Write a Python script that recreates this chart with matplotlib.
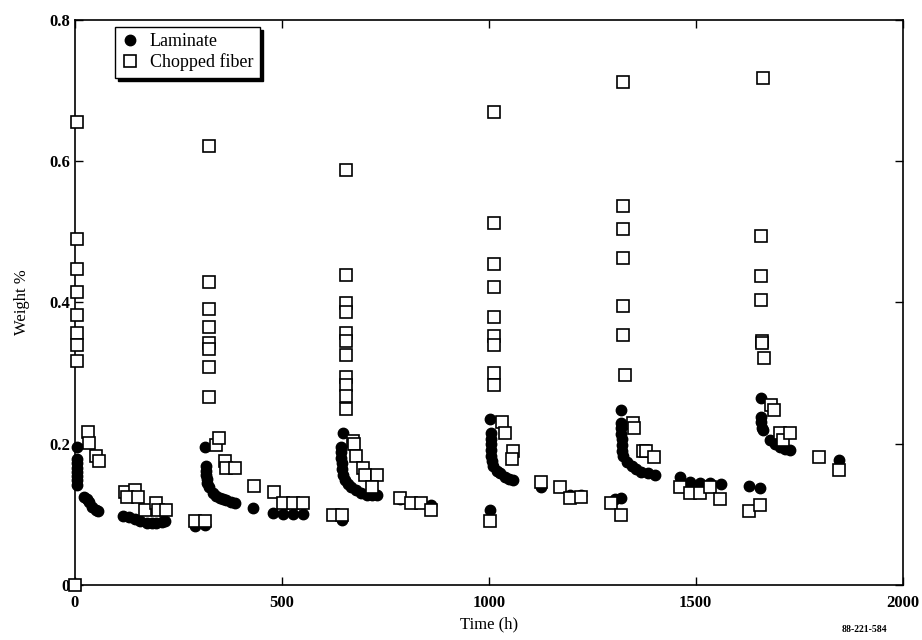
import matplotlib
matplotlib.use('Agg')
import matplotlib.pyplot as plt

plt.rcParams['font.family'] = ['Liberation Serif', 'DejaVu Serif']

# Laminate (filled circles)
lam_t = [4, 5, 5, 5, 5, 5, 5, 5, 22, 28, 34, 42, 52, 56,
         116, 130, 145, 157, 173, 185, 197, 210, 217,
         290, 314, 314, 316, 316, 316, 318, 320, 324, 334, 342, 350, 358, 366, 376, 386,
         431, 479, 503, 527, 551,
         646, 648, 644, 644, 644, 645, 646, 648, 652, 660, 668, 680, 692, 705, 717, 729,
         785, 861,
         1004, 1004, 1005, 1005, 1005, 1006, 1006, 1008, 1010, 1020, 1027, 1040, 1050, 1059,
         1127, 1196, 1224,
         1305, 1320, 1320, 1320, 1320, 1320, 1321, 1322, 1323, 1325, 1335, 1345, 1357, 1369, 1385, 1401,
         1461, 1486, 1510, 1534, 1562, 1630, 1655,
         1659, 1659, 1659, 1660, 1662, 1679, 1691, 1703, 1715, 1727,
         1846]
lam_w = [0.196, 0.178, 0.172, 0.166, 0.160, 0.154, 0.148, 0.142, 0.125, 0.121, 0.117, 0.111, 0.106, 0.104,
         0.097, 0.096, 0.093, 0.090, 0.088, 0.088, 0.088, 0.089, 0.090,
         0.083, 0.085, 0.196, 0.168, 0.162, 0.156, 0.150, 0.144, 0.139, 0.130, 0.126, 0.123, 0.121, 0.120, 0.118, 0.116,
         0.109, 0.102, 0.101, 0.100, 0.101,
         0.092, 0.215, 0.196, 0.188, 0.180, 0.172, 0.164, 0.156, 0.149, 0.143, 0.139, 0.134, 0.130, 0.128, 0.127, 0.127,
         0.121, 0.113,
         0.106, 0.235, 0.215, 0.207, 0.199, 0.191, 0.183, 0.175, 0.168, 0.162, 0.158, 0.153, 0.150, 0.149,
         0.139, 0.128, 0.128,
         0.121, 0.123, 0.248, 0.229, 0.222, 0.214, 0.206, 0.198, 0.190, 0.182, 0.174, 0.168, 0.164, 0.160, 0.158, 0.156,
         0.153, 0.146, 0.144, 0.144, 0.143, 0.140, 0.137,
         0.264, 0.238, 0.230, 0.222, 0.219, 0.205, 0.200, 0.196, 0.193, 0.191,
         0.177]

# Chopped fiber (open squares)
chop_t = [0,
          5, 5, 5, 5, 5, 5, 5, 5, 32, 35, 52, 59,
          121, 145, 125, 153, 169, 197, 200, 220,
          290, 314, 324, 324, 324, 324, 324, 324, 324, 324, 340, 349, 362, 366, 386, 432, 481, 503, 527, 551,
          624, 646, 655, 655, 655, 655, 655, 655, 655, 655, 655, 656, 656, 672, 674, 679, 696, 700, 729, 717,
          785, 813, 837, 861,
          1004, 1012, 1012, 1012, 1012, 1012, 1012, 1012, 1012, 1013, 1031, 1039, 1059, 1055,
          1127, 1171, 1196, 1224,
          1296, 1320, 1324, 1324, 1324, 1324, 1324, 1324, 1329, 1349, 1351, 1373, 1381, 1399,
          1461, 1486, 1510, 1534, 1560, 1630, 1655,
          1662, 1659, 1659, 1659, 1661, 1661, 1664, 1683, 1689, 1703, 1711, 1727,
          1798, 1846]
chop_w = [0.0,
          0.655, 0.490, 0.447, 0.415, 0.382, 0.357, 0.340, 0.317, 0.216, 0.201, 0.183, 0.175,
          0.132, 0.134, 0.125, 0.125, 0.106, 0.116, 0.106, 0.106,
          0.090, 0.090, 0.621, 0.429, 0.390, 0.365, 0.342, 0.334, 0.308, 0.266, 0.198, 0.208, 0.175, 0.165, 0.165,
          0.140, 0.132, 0.116, 0.116, 0.116,
          0.099, 0.099, 0.588, 0.439, 0.399, 0.387, 0.356, 0.345, 0.326, 0.295, 0.283, 0.267, 0.249,
          0.204, 0.200, 0.182, 0.165, 0.156, 0.156, 0.139,
          0.123, 0.116, 0.116, 0.106,
          0.090, 0.670, 0.512, 0.455, 0.422, 0.380, 0.352, 0.340, 0.300, 0.283, 0.231, 0.215, 0.189, 0.179,
          0.146, 0.139, 0.123, 0.125,
          0.116, 0.099, 0.712, 0.537, 0.504, 0.463, 0.395, 0.354, 0.297, 0.229, 0.222, 0.190, 0.190, 0.181,
          0.139, 0.130, 0.130, 0.139, 0.121, 0.104, 0.113,
          0.717, 0.494, 0.437, 0.404, 0.345, 0.343, 0.321, 0.255, 0.248, 0.215, 0.205, 0.215,
          0.181, 0.163]

fig = plt.figure(figsize=(9.22, 6.4), dpi=100)
ax = fig.add_axes([0.0813, 0.086, 0.8976, 0.883])

ax.plot(lam_t, lam_w, 'o', color='black', markersize=7.5, linestyle='none',
        label='Laminate', clip_on=False, zorder=3)
ax.plot(chop_t, chop_w, 's', markerfacecolor='white', markeredgecolor='black',
        markeredgewidth=1.2, markersize=8.7, linestyle='none',
        label='Chopped fiber', clip_on=False, zorder=4)

ax.set_xlim(0, 2000)
ax.set_ylim(0, 0.8)
ax.set_xticks([0, 500, 1000, 1500, 2000])
ax.set_yticks([0, 0.2, 0.4, 0.6, 0.8])
ax.set_yticklabels(['0', '0.2', '0.4', '0.6', '0.8'])
ax.tick_params(direction='in', length=6, width=1, top=True, right=True, labelsize=12)
ax.tick_params(axis='x', pad=7)
for lbl in ax.get_xticklabels() + ax.get_yticklabels():
    lbl.set_fontweight('bold')
for s in ax.spines.values():
    s.set_linewidth(1.2)

ax.set_xlabel('Time (h)', fontsize=12, labelpad=4)
ax.set_ylabel('Weight %', fontsize=12, labelpad=14)

leg = ax.legend(loc='upper left', bbox_to_anchor=(0.048, 0.988), fontsize=13,
                frameon=True, fancybox=False, handletextpad=0.6, borderpad=0.35,
                labelspacing=0.2, handlelength=1.0, borderaxespad=0,
                shadow={'color': 'black', 'alpha': 1, 'ox': 2.5, 'oy': -2.5})
leg.get_frame().set_edgecolor('black')
leg.get_frame().set_linewidth(1.0)

fig.text(0.938, 0.012, '88-221-584', fontsize=7, fontweight='bold', ha='center')

fig.savefig('out.png', dpi=100)
